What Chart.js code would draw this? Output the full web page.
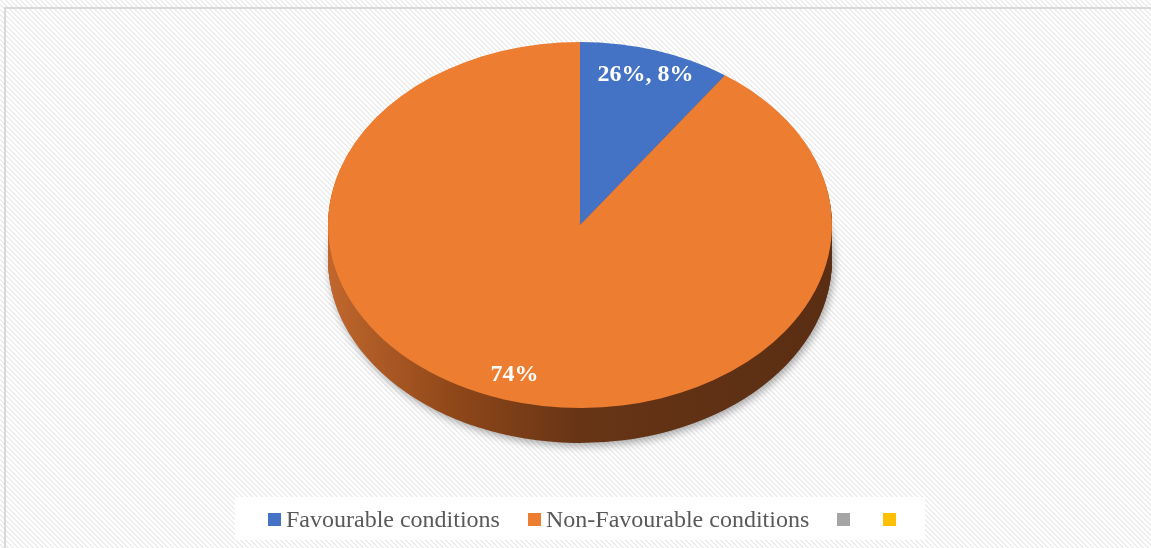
<!DOCTYPE html>
<html>
<head>
<meta charset="utf-8">
<script src="https://cdn.jsdelivr.net/npm/chart.js@4.4.1/dist/chart.umd.min.js"></script>
<style>
  html, body { margin: 0; padding: 0; width: 1151px; height: 548px; overflow: hidden; background: #fff; }
  #bg { position: absolute; left: 0; top: 0; }
  #border { position: absolute; left: 4px; top: 7px; width: 1170px; height: 570px; border: 2px solid #d9d9d9; box-sizing: border-box; }
  #chart { position: absolute; left: 0; top: 0; }
  #legend {
    position: absolute; left: 235px; top: 497px; width: 690px; height: 43px;
    background: rgba(255, 255, 255, 0.9);
  }
  #legendItems {
    position: absolute; left: 33px; top: 10px; display: flex; align-items: center;
    font-family: "Liberation Serif", "Times New Roman", serif; font-size: 24px; line-height: 24px; color: #595959;
    white-space: nowrap;
  }
  .item { display: flex; align-items: center; margin-right: 28px; }
  .swatch { width: 13px; height: 13px; margin-right: 5px; margin-top: 1px; }
</style>
</head>
<body>
<canvas id="bg" width="1151" height="548"></canvas>
<div id="border"></div>
<canvas id="chart" width="1151" height="548"></canvas>
<div id="legend"><div id="legendItems"></div></div>
<script>
// Series
const categories = ['Favourable conditions', 'Non-Favourable conditions', '', ''];
const values = [8, 74, 0, 0];
const valueLabels = ['26%, 8%', '74%', '', ''];
const sliceColors = ['#4472C4', '#ED7D31', '#A5A5A5', '#FFC000'];

// Tilted-disc look: vertical squash, screen centre line and thickness of the side
const SQUASH = 183 / 252;
const CENTER_Y = 225;
const DEPTH = 35;

// Light diagonal hatch behind the chart
(function paintHatch() {
  const tile = document.createElement('canvas');
  tile.width = 5; tile.height = 5;
  const t = tile.getContext('2d');
  t.fillStyle = '#ffffff';
  t.fillRect(0, 0, 5, 5);
  t.fillStyle = '#ededed';
  for (let y = 0; y < 5; y++) {
    for (let x = 0; x < 5; x++) {
      const d = ((x - y) % 5 + 5) % 5;
      if (d === 0 || d === 1) t.fillRect(x, y, 1, 1);
    }
  }
  const bg = document.getElementById('bg').getContext('2d');
  bg.fillStyle = bg.createPattern(tile, 'repeat');
  bg.fillRect(0, 0, 1151, 548);
})();

function sideFill(ctx, index, cx, r) {
  if (index === 1) {
    const g = ctx.createLinearGradient(cx - r, 0, cx + r, 0);
    g.addColorStop(0, '#c0672d');
    g.addColorStop(0.25, '#8f4719');
    g.addColorStop(0.5, '#673416');
    g.addColorStop(1, '#5a2e13');
    return g;
  }
  return index === 0 ? '#2f5597' : index === 2 ? '#7b7b7b' : '#bf9000';
}

function slicePath(ctx, arc) {
  ctx.beginPath();
  ctx.moveTo(arc.x, arc.y);
  ctx.arc(arc.x, arc.y, arc.outerRadius, arc.startAngle, arc.endAngle);
  ctx.closePath();
}

const tiltPlugin = {
  id: 'tilt',
  beforeDatasetsDraw(chart) {
    const ctx = chart.ctx;
    const arcs = chart.getDatasetMeta(0).data;
    const cx = arcs[0].x, cy = arcs[0].y, r = arcs[0].outerRadius;
    // side wall, stacked from the bottom up
    for (let i = DEPTH; i >= 1; i--) {
      ctx.save();
      ctx.translate(0, CENTER_Y + i);
      ctx.scale(1, SQUASH);
      ctx.translate(0, -cy);
      if (i === DEPTH) {
        ctx.shadowColor = 'rgba(0,0,0,0.35)';
        ctx.shadowBlur = 9;
        ctx.shadowOffsetX = 2;
        ctx.shadowOffsetY = 3;
      }
      arcs.forEach((arc, idx) => {
        if (arc.endAngle - arc.startAngle <= 0) return;
        ctx.fillStyle = sideFill(ctx, idx, cx, r);
        slicePath(ctx, arc);
        ctx.fill();
      });
      ctx.restore();
    }
    // top face drawn by the library in the squashed frame
    ctx.save();
    ctx.translate(0, CENTER_Y);
    ctx.scale(1, SQUASH);
    ctx.translate(0, -cy);
  },
  afterDatasetsDraw(chart) {
    const ctx = chart.ctx;
    ctx.restore();
    const arcs = chart.getDatasetMeta(0).data;
    ctx.save();
    ctx.fillStyle = '#ffffff';
    ctx.font = 'bold 24px "Liberation Serif", "Times New Roman", serif';
    ctx.textAlign = 'center';
    ctx.textBaseline = 'middle';
    arcs.forEach((arc, idx) => {
      const text = valueLabels[idx];
      if (!text) return;
      const mid = (arc.startAngle + arc.endAngle) / 2;
      const rr = arc.outerRadius * 0.86;
      const x = arc.x + Math.cos(mid) * rr;
      const y = CENTER_Y + Math.sin(mid) * rr * SQUASH;
      ctx.fillText(text, x, y);
    });
    ctx.restore();
  }
};

new Chart(document.getElementById('chart'), {
  type: 'pie',
  data: {
    labels: categories,
    datasets: [{
      data: values,
      backgroundColor: sliceColors,
      borderWidth: 0,
      clip: false
    }]
  },
  options: {
    responsive: false,
    animation: false,
    devicePixelRatio: 1,
    layout: { padding: { left: 328, right: 319, top: 20, bottom: 24 } },
    plugins: {
      legend: { display: false },
      tooltip: { enabled: false }
    }
  },
  plugins: [tiltPlugin]
});

// Legend row
const legendItems = document.getElementById('legendItems');
categories.forEach((name, i) => {
  const item = document.createElement('div');
  item.className = 'item';
  const sw = document.createElement('span');
  sw.className = 'swatch';
  sw.style.background = sliceColors[i];
  const label = document.createElement('span');
  label.textContent = name;
  item.appendChild(sw);
  item.appendChild(label);
  legendItems.appendChild(item);
});
</script>
</body>
</html>
